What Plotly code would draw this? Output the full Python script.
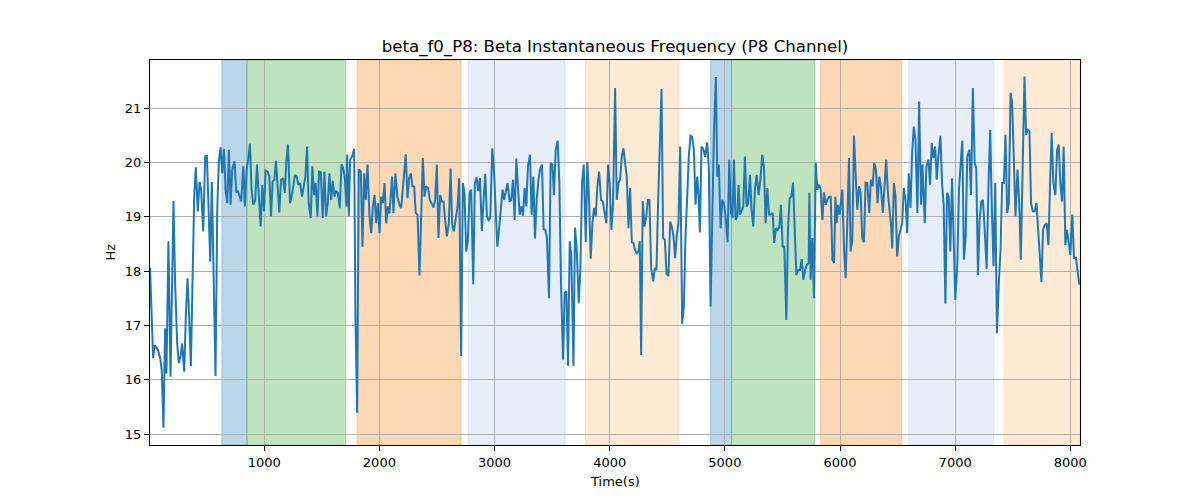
import plotly.graph_objects as go

# ---- data ----
time_s = [8, 35, 49, 78, 99, 110, 125, 139, 151, 168, 186, 212, 226, 244, 258, 273, 287, 305, 319, 334,
          348, 363, 377, 392, 406, 423, 438, 452, 470, 487, 502, 516, 531, 545, 560, 577, 592, 606, 621, 635,
          650, 664, 679, 693, 708, 722, 742, 757, 771, 786, 800, 818, 832, 847, 861, 876, 890, 905, 922, 937,
          954, 969, 983, 998, 1012, 1030, 1044, 1059, 1073, 1088, 1102, 1117, 1131, 1146, 1163, 1178, 1192, 1206, 1224, 1238,
          1253, 1267, 1282, 1296, 1311, 1328, 1343, 1357, 1372, 1386, 1404, 1418, 1433, 1447, 1462, 1476, 1491, 1508, 1523, 1537,
          1552, 1566, 1581, 1595, 1610, 1624, 1639, 1656, 1671, 1685, 1700, 1714, 1720, 1734, 1746, 1763, 1781, 1792, 1807, 1821,
          1839, 1853, 1868, 1882, 1897, 1914, 1929, 1943, 1958, 1972, 1987, 2001, 2016, 2030, 2045, 2059, 2074, 2088,
          2110, 2122, 2139, 2157, 2174, 2189, 2203, 2218, 2229, 2244, 2258, 2273, 2287, 2302, 2316, 2331, 2348, 2363, 2377, 2392,
          2406, 2423, 2438, 2452, 2470, 2484, 2499, 2513, 2528, 2542, 2557, 2571, 2586, 2603, 2618, 2632, 2647, 2661, 2679, 2693,
          2710, 2725, 2739, 2754, 2768, 2783, 2797, 2815, 2829, 2844, 2858, 2873, 2890, 2905, 2919, 2934, 2948, 2963, 2980, 2995,
          3009, 3024, 3041, 3055, 3070, 3084, 3099, 3113, 3131, 3145, 3160, 3174, 3189, 3203, 3218, 3232, 3247, 3261, 3276, 3290,
          3308, 3322, 3337, 3351, 3366, 3380, 3395, 3412, 3426, 3441, 3455, 3473, 3487, 3502, 3516, 3531, 3548, 3563, 3577, 3595,
          3609, 3624, 3638, 3653, 3667, 3685, 3699, 3714, 3731, 3745, 3760, 3774, 3792, 3806, 3821, 3835, 3850, 3864, 3879, 3893,
          3908, 3925, 3940, 3954, 3971, 3986, 4000, 4015, 4029, 4047, 4061, 4076, 4090,
          4105, 4119, 4134, 4148, 4163, 4177, 4192, 4206, 4220, 4235, 4249, 4261, 4273, 4287, 4302, 4316, 4331, 4345, 4360, 4377,
          4392, 4406, 4421, 4435, 4450, 4464, 4479, 4493, 4510, 4525, 4539, 4554, 4568, 4583, 4597, 4612, 4629, 4644, 4658, 4673,
          4687, 4702, 4716, 4731, 4745, 4760, 4771, 4783, 4797, 4815, 4829, 4847, 4861, 4876, 4890, 4905, 4922, 4934, 4948, 4963,
          4977, 4992, 5006, 5024, 5038, 5053, 5067, 5079, 5093, 5108, 5119, 5131, 5145, 5160, 5174, 5189, 5203, 5218, 5232, 5247,
          5261, 5276, 5293, 5308, 5325, 5340, 5354, 5369, 5383, 5398, 5415, 5429, 5444, 5458, 5473, 5487, 5502, 5516, 5534, 5548,
          5563, 5577, 5592, 5606, 5621, 5638, 5653, 5667, 5682, 5696, 5713, 5728, 5734, 5745, 5760, 5774, 5789, 5803, 5818, 5832,
          5847, 5861, 5876, 5890, 5905,
          5919, 5934, 5948, 5960, 5971, 5983, 5997, 6009, 6020, 6035, 6049, 6063, 6078, 6092, 6107, 6121, 6136, 6150, 6165, 6179,
          6193, 6208, 6222, 6237, 6254, 6268, 6283, 6297, 6312, 6326, 6341, 6355, 6372, 6387, 6401, 6416, 6430, 6444, 6453, 6468,
          6482, 6496, 6511, 6525, 6540, 6554, 6569, 6583, 6597, 6612, 6626, 6641, 6655, 6672, 6687, 6704, 6716, 6736, 6750, 6768,
          6782, 6797, 6811, 6826, 6840, 6854, 6872, 6886, 6900, 6915, 6929, 6944, 6958, 6973, 6987, 7001, 7019, 7033, 7048, 7062,
          7076, 7091, 7105, 7123, 7137, 7154, 7169, 7183, 7198, 7212, 7227, 7241, 7258, 7273, 7290, 7304, 7319, 7333, 7348, 7362,
          7379, 7394, 7408, 7423, 7437, 7452, 7466, 7481, 7495, 7509, 7524, 7541, 7556, 7570, 7584, 7602, 7616, 7631, 7645, 7659,
          7674, 7691, 7706, 7720, 7734, 7749, 7763, 7778, 7795, 7810, 7824, 7838, 7853, 7870, 7885, 7899, 7913, 7928, 7942, 7957,
          7971, 7986, 8000, 8017, 8032, 8049, 8063, 8078]

freq_hz = [18.06, 16.40, 16.64, 16.55, 16.37, 16.18, 15.12, 16.95, 16.12, 18.55, 16.06, 19.29, 17.78, 16.67, 16.31, 16.43, 16.67, 16.15, 17.17, 17.87,
           17.17, 16.25, 17.78, 19.37, 19.91, 19.10, 19.64, 19.50, 18.73, 20.11, 20.12, 19.19, 18.18, 19.64, 17.66, 16.07, 19.13, 20.02, 20.28, 19.80,
           20.25, 19.50, 19.25, 20.23, 19.22, 19.87, 20.02, 19.45, 19.47, 19.37, 19.28, 19.93, 19.19, 19.87, 20.05, 20.34, 19.50, 19.22, 19.31, 19.96,
           19.37, 18.82, 19.59, 19.10, 19.85, 19.83, 19.74, 19.01, 19.65, 19.68, 20.03, 19.44, 19.08, 19.68, 19.71, 19.44, 20.02, 20.33, 19.25, 19.37,
           19.62, 19.77, 19.74, 19.59, 19.62, 19.37, 19.56, 19.74, 20.29, 19.25, 18.98, 19.93, 19.40, 19.62, 19.01, 19.83, 19.82, 18.98, 19.83, 19.01,
           19.25, 19.80, 19.31, 19.66, 19.37, 19.47, 19.44, 19.16, 19.96, 19.90, 19.71, 19.19, 20.14, 19.01, 20.05, 20.11, 20.25, 17.17, 15.39, 19.87,
           19.83, 18.45, 19.80, 19.31, 19.96, 19.01, 18.70, 19.19, 19.40, 18.88, 19.25, 18.70, 19.37, 19.25, 19.62, 18.88, 19.19, 19.06,
           19.74, 19.07, 19.80, 19.37, 19.22, 19.16, 19.50, 19.80, 20.15, 19.34, 19.71, 19.80, 19.56, 19.55, 19.07, 19.04, 17.92, 19.01, 20.08, 19.37,
           19.56, 19.53, 19.31, 19.25, 19.17, 19.31, 19.96, 18.61, 19.40, 19.28, 19.28, 18.94, 18.64, 18.88, 19.89, 18.85, 18.73, 18.94, 19.19, 19.71,
           16.44, 19.62, 19.44, 18.36, 18.55, 19.44, 19.50, 17.76, 19.62, 19.72, 19.47, 19.71, 18.74, 19.31, 19.79, 19.01, 18.94, 18.98, 20.26, 19.87,
           19.13, 18.45, 18.82, 19.19, 19.50, 19.31, 19.47, 19.62, 19.28, 19.31, 19.68, 18.94, 20.07, 19.62, 19.04, 19.19, 19.02, 19.53, 19.19, 19.93,
           20.14, 19.04, 19.74, 18.60, 19.31, 19.65, 19.87, 19.96, 18.77, 18.76, 18.61, 17.50, 19.99, 19.96, 19.40, 20.23, 20.40, 19.62, 17.78, 16.37,
           17.60, 17.63, 16.26, 18.55, 18.27, 16.26, 18.80, 18.39, 17.41, 18.02, 19.62, 19.96, 18.53, 20.00, 19.31, 18.23, 18.88, 19.16, 19.01, 19.56,
           19.83, 19.31, 19.28, 19.10, 18.88, 19.96, 19.62, 18.76, 19.25, 21.37, 19.31, 19.62, 19.68,
           20.11, 20.26, 19.99, 19.74, 18.79, 19.53, 18.53, 18.52, 18.39, 18.33, 18.36, 18.55, 16.46, 19.29, 18.82, 18.98, 19.31, 19.31, 18.06, 17.81,
           18.06, 18.02, 19.31, 20.23, 21.35, 18.61, 18.58, 17.96, 17.91, 18.91, 18.82, 18.64, 18.24, 18.67, 18.88, 20.29, 17.03, 17.35, 18.64, 19.37,
           20.11, 20.49, 20.47, 20.23, 19.22, 19.74, 19.40, 18.71, 20.29, 20.23, 20.10, 20.37, 19.87, 17.35, 19.31, 20.54, 21.57, 19.74, 19.96, 18.79,
           19.31, 19.25, 19.01, 18.53, 20.05, 19.07, 18.98, 20.05, 18.94, 19.01, 19.59, 19.04, 19.10, 19.19, 20.11, 19.19, 19.25, 19.77, 19.13, 18.82,
           19.50, 19.77, 19.40, 19.68, 20.14, 19.90, 18.88, 19.53, 19.04, 19.04, 19.07, 18.52, 18.79, 18.76, 18.81, 19.22, 18.45, 18.45, 17.10, 18.76,
           19.34, 19.37, 19.63, 18.61, 17.93, 18.02, 18.02, 18.22, 17.84, 18.02, 18.12, 18.15, 19.44, 17.84, 18.61, 17.50, 19.99, 19.50, 19.59, 19.50,
           18.94, 19.45, 19.22, 19.31, 19.37,
           19.37, 18.21, 18.15, 19.37, 18.88, 19.22, 19.04, 19.25, 19.50, 18.39, 17.87, 18.88, 20.08, 18.36, 18.58, 20.49, 19.87, 19.13, 19.56, 19.44,
           18.61, 18.53, 19.63, 19.62, 19.07, 19.68, 19.56, 19.99, 19.87, 19.25, 19.74, 19.56, 19.07, 19.62, 20.05, 19.44, 19.13, 18.82, 18.42, 19.62,
           19.37, 18.27, 18.64, 18.76, 18.88, 19.53, 19.31, 18.70, 19.80, 19.16, 20.17, 20.66, 20.42, 19.07, 21.12, 19.22, 19.96, 18.88, 19.93, 20.05,
           19.59, 20.36, 20.08, 20.29, 19.68, 20.11, 20.49, 19.62, 19.22, 17.40, 19.44, 19.37, 18.36, 19.71, 18.27, 17.47, 18.15, 19.50, 19.99, 20.40,
           18.21, 18.64, 20.11, 20.23, 19.40, 21.37, 19.99, 19.90, 17.93, 18.94, 19.28, 19.31, 18.70, 18.04, 19.62, 20.60, 19.10, 18.09, 19.62, 16.86,
           17.78, 18.39, 19.62, 19.62, 20.51, 19.07, 19.25, 21.28, 21.09, 20.23, 19.01, 19.87, 19.25, 18.21, 19.74, 21.58, 20.51, 20.60, 20.57, 19.25,
           19.10, 19.10, 19.25, 18.76, 18.27, 17.80, 18.76, 18.85, 18.88, 18.48, 19.62, 20.54, 19.62, 19.40, 20.23, 20.33, 19.62, 19.28, 20.29, 18.48,
           18.76, 18.52, 18.30, 19.04, 18.24, 18.24, 18.02, 17.75]

# shaded periods (start, end, colour)
span_start = [632, 850, 1806, 2771, 3789, 4876, 5058, 5832, 6597, 7423]
span_end = [850, 1708, 2710, 3612, 4603, 5058, 5783, 6537, 7334, 8084]
span_color = ["#1f77b4", "#2ca02c", "#ff7f0e", "#aec7e8", "#ffbb78",
              "#1f77b4", "#2ca02c", "#ff7f0e", "#aec7e8", "#ffbb78"]

x_ticks = [1000, 2000, 3000, 4000, 5000, 6000, 7000, 8000]
y_ticks = [15, 16, 17, 18, 19, 20, 21]
x_range = [8, 8084]
y_range = [14.803, 21.883]

title = "beta_f0_P8: Beta Instantaneous Frequency (P8 Channel)"
x_label = "Time(s)"
y_label = "Hz"


def rgba(hex_color, a):
    h = hex_color.lstrip("#")
    r, g, b = int(h[0:2], 16), int(h[2:4], 16), int(h[4:6], 16)
    return f"rgba({r},{g},{b},{a})"


fig = go.Figure()
fig.add_trace(go.Scatter(x=time_s, y=freq_hz, mode="lines",
                         line=dict(color="#1f77b4", width=2), showlegend=False,
                         hoverinfo="x+y"))

shapes = []
for s, e, c in zip(span_start, span_end, span_color):
    shapes.append(dict(type="rect", xref="x", yref="paper", x0=s, x1=e, y0=0, y1=1,
                       fillcolor=rgba(c, 0.3), line=dict(color=rgba(c, 0.3), width=1),
                       layer="below"))

font_family = "DejaVu Sans, Liberation Sans, sans-serif"

# the page body adds an 8px offset, so margins are shifted to compensate
fig.update_layout(
    width=1200, height=500,
    margin=dict(l=142, r=128, t=52, b=63),
    paper_bgcolor="white", plot_bgcolor="white",
    font=dict(family=font_family, size=13, color="black"),
    shapes=shapes,
    title=dict(text=title, x=0.5, xref="paper", xanchor="center",
               y=1 - 38 / 500, yref="container", yanchor="middle",
               font=dict(size=16.6, color="black", family=font_family)),
    xaxis=dict(range=x_range, tickvals=x_ticks, ticks="outside", ticklen=5, tickwidth=1,
               tickcolor="black", showgrid=True, gridcolor="#b0b0b0", gridwidth=1,
               showline=True, linecolor="black", linewidth=1, mirror=True,
               zeroline=False, tickfont=dict(size=13)),
    yaxis=dict(range=y_range, tickvals=y_ticks, ticks="outside", ticklen=5, tickwidth=1,
               tickcolor="black", showgrid=True, gridcolor="#b0b0b0", gridwidth=1,
               showline=True, linecolor="black", linewidth=1, mirror=True,
               zeroline=False, tickfont=dict(size=13)),
    annotations=[
        dict(text=x_label, xref="paper", yref="paper", x=0.5, y=(445 - 481) / 385,
             xanchor="center", yanchor="middle", showarrow=False, font=dict(size=13)),
        dict(text=y_label, xref="paper", yref="paper", x=(110 - 150) / 930, y=0.5,
             xanchor="center", yanchor="middle", showarrow=False, textangle=-90,
             font=dict(size=13)),
    ],
)

fig.write_html("out.html")
